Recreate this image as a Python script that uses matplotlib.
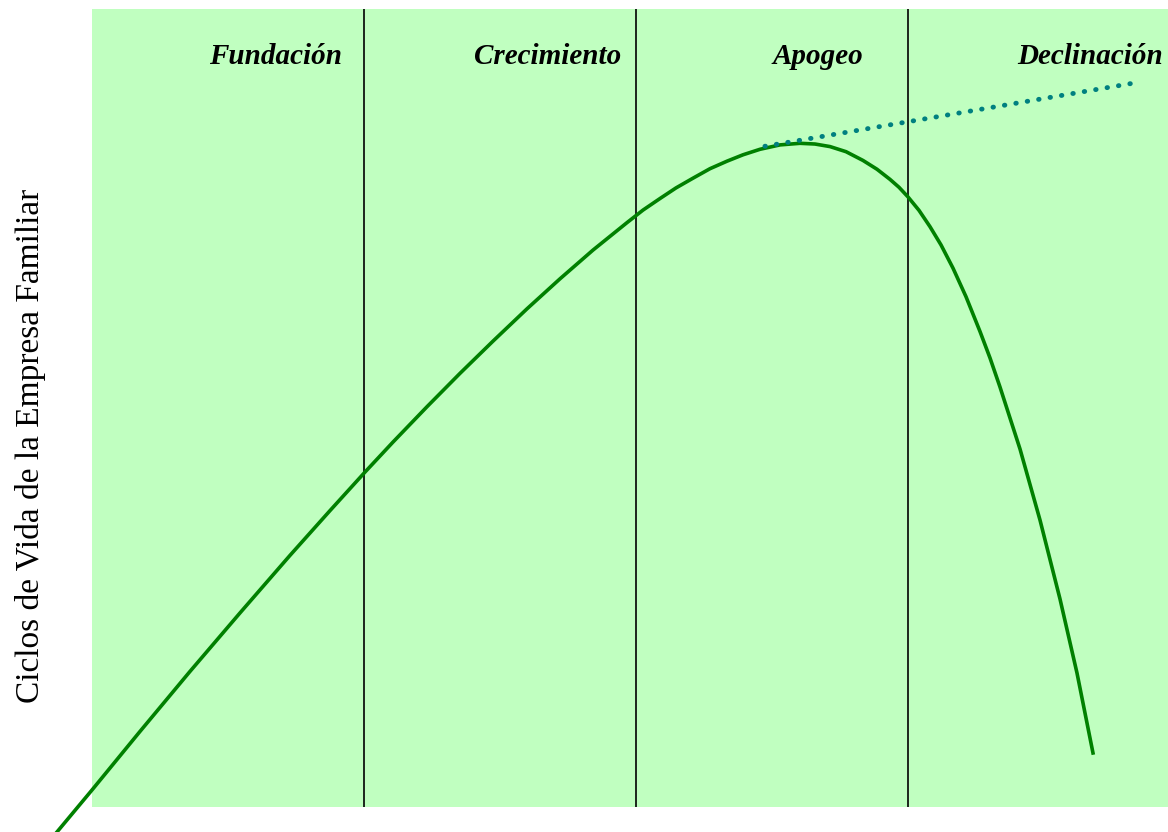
import matplotlib
matplotlib.use("Agg")
import matplotlib.pyplot as plt

# etapas del ciclo de vida
etapas = ["Fundación", "Crecimiento", "Apogeo", "Declinación"]
etapa_x = [0.676, 1.676, 2.669, 3.669]   # centro de cada etiqueta
limites = [1.0, 2.0, 3.0]

# curva principal
curva_x = [-0.1287, 0.0, 0.1765, 0.3603, 0.5441, 0.7279, 0.875, 1.0037, 1.1066,
           1.2316, 1.3529, 1.4743, 1.5993, 1.7206, 1.8419, 1.9669, 2.0257,
           2.0882, 2.1471, 2.2096, 2.2721, 2.3346, 2.3934, 2.4559, 2.5294,
           2.6029, 2.6581, 2.7132, 2.7721, 2.8346, 2.886, 2.9338, 2.9669, 3.0,
           3.0404, 3.0809, 3.1213, 3.1654, 3.2132, 3.2647, 3.3015, 3.3382,
           3.4118, 3.4853, 3.5588, 3.6213, 3.6801]
curva_y = [-3.13, 2.13, 9.47, 16.99, 24.32, 31.53, 37.14, 41.97, 45.73,
           50.16, 54.34, 58.38, 62.43, 66.19, 69.79, 73.23, 74.8,
           76.25, 77.58, 78.8, 79.99, 80.93, 81.73, 82.42, 82.97,
           83.17, 83.08, 82.76, 82.12, 81.02, 79.92, 78.65, 77.66, 76.45,
           74.77, 72.72, 70.44, 67.53, 63.95, 59.59, 56.27, 52.63,
           44.86, 35.96, 26.07, 16.79, 6.77]

# tendencia punteada
tend_x = [2.474, 3.827]
tend_y = [82.8, 90.7]

plt.rcParams['font.family'] = ['Liberation Serif', 'DejaVu Serif']

fig = plt.figure(figsize=(11.68, 8.32), dpi=100)
ax = fig.add_axes([92 / 1168, 25 / 832, 1076 / 1168, 798 / 832])
ax.set_facecolor("#C0FFC0")
ax.set_xlim(0, 1076 / 272)
ax.set_ylim(0, 100)
for s in ax.spines.values():
    s.set_visible(False)
ax.set_xticks([])
ax.set_yticks([])

for x in limites:
    ax.axvline(x, color="black", lw=1.2)

ax.plot(curva_x, curva_y, color="#008000", lw=2.6, clip_on=False,
        solid_joinstyle="round", zorder=3)
ax.plot(tend_x, tend_y, color="#008080", lw=3.5, linestyle=(0, (0.1, 2.28)),
        dash_capstyle="round", zorder=4)

for nombre, x in zip(etapas, etapa_x):
    ax.text(x, 94.0, nombre, ha="center", va="center", fontsize=21,
            fontweight="bold", fontstyle="italic")

fig.text(31 / 1168, 1 - 446 / 832, "Ciclos de Vida de la Empresa Familiar",
         rotation=90, ha="center", va="center", fontsize=24)

fig.savefig("out.png", dpi=100)
